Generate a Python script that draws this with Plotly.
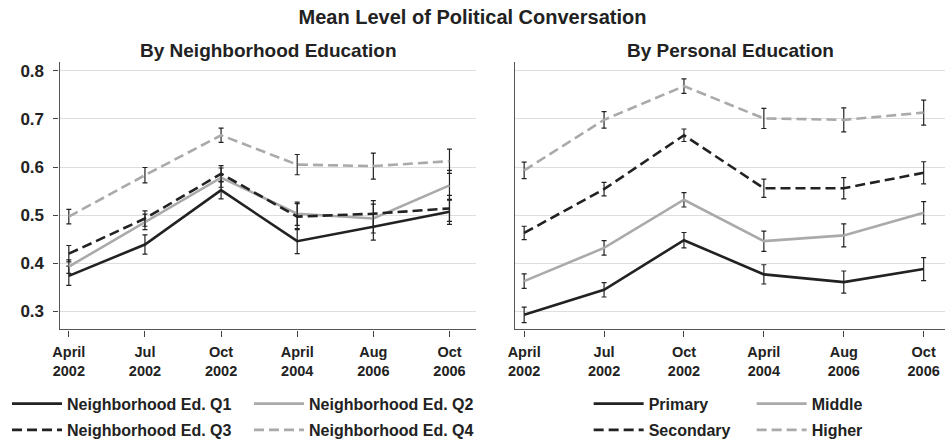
import plotly.graph_objects as go

# ---- data ----
waves = ["April<br>2002", "Jul<br>2002", "Oct<br>2002", "April<br>2004", "Aug<br>2006", "Oct<br>2006"]
wave_pos = [0, 1, 2, 3, 4, 5]

neigh_names = ["Neighborhood Ed. Q1", "Neighborhood Ed. Q2", "Neighborhood Ed. Q3", "Neighborhood Ed. Q4"]
neigh_q1 = [0.374, 0.439, 0.552, 0.446, 0.476, 0.507]
neigh_q2 = [0.393, 0.486, 0.578, 0.503, 0.493, 0.562]
neigh_q3 = [0.420, 0.493, 0.586, 0.497, 0.503, 0.514]
neigh_q4 = [0.497, 0.583, 0.666, 0.605, 0.602, 0.612]
neigh_q1_err = [0.020, 0.020, 0.018, 0.026, 0.028, 0.026]
neigh_q2_err = [0.014, 0.016, 0.020, 0.024, 0.030, 0.031]
neigh_q3_err = [0.017, 0.016, 0.017, 0.027, 0.027, 0.027]
neigh_q4_err = [0.015, 0.016, 0.015, 0.021, 0.027, 0.025]

pers_names = ["Primary", "Middle", "Secondary", "Higher"]
pers_primary = [0.293, 0.345, 0.448, 0.377, 0.361, 0.388]
pers_middle = [0.363, 0.432, 0.532, 0.446, 0.458, 0.505]
pers_secondary = [0.463, 0.554, 0.666, 0.556, 0.556, 0.588]
pers_higher = [0.593, 0.698, 0.768, 0.701, 0.698, 0.713]
pers_primary_err = [0.016, 0.015, 0.016, 0.020, 0.023, 0.024]
pers_middle_err = [0.015, 0.015, 0.015, 0.021, 0.024, 0.023]
pers_secondary_err = [0.014, 0.014, 0.013, 0.019, 0.022, 0.023]
pers_higher_err = [0.017, 0.017, 0.015, 0.021, 0.025, 0.026]

y_ticks = [0.3, 0.4, 0.5, 0.6, 0.7, 0.8]

# ---- styles ----
BLACK = "#222222"
GRAY = "#aaaaaa"
FONT = "Liberation Sans, Arial, Helvetica, sans-serif"
DASH = "10px,5px"
styles = [(BLACK, "solid"), (GRAY, "solid"), (BLACK, DASH), (GRAY, DASH)]

W, H = 945, 447

fig = go.Figure()

def add_series(x_axis, y_axis, name, ys, errs, style, legend):
    color, dash = style
    fig.add_trace(go.Scatter(
        x=wave_pos, y=ys, name=name, mode="lines",
        line=dict(color=color, width=2.6, dash=dash),
        error_y=dict(type="data", array=errs, visible=True, color=BLACK,
                     thickness=1.2, width=2.5),
        xaxis=x_axis, yaxis=y_axis, legend=legend,
    ))

left_series = [neigh_q1, neigh_q2, neigh_q3, neigh_q4]
left_errs = [neigh_q1_err, neigh_q2_err, neigh_q3_err, neigh_q4_err]
right_series = [pers_primary, pers_middle, pers_secondary, pers_higher]
right_errs = [pers_primary_err, pers_middle_err, pers_secondary_err, pers_higher_err]
row_legends_left = ["legend", "legend", "legend2", "legend2"]
row_legends_right = ["legend3", "legend3", "legend4", "legend4"]

for i in range(4):
    add_series("x", "y", neigh_names[i], left_series[i], left_errs[i], styles[i], row_legends_left[i])
for i in range(4):
    add_series("x2", "y2", pers_names[i], right_series[i], right_errs[i], styles[i], row_legends_right[i])

def px_x(p):
    return p / W

def px_y(p):
    return 1 - p / H

ydom = [px_y(337), px_y(63)]
yrange = [0.2626, 0.819]

axis_common = dict(
    showgrid=False, zeroline=False, showline=True, linecolor="#555555", linewidth=1.3,
    ticks="outside", ticklen=6, tickwidth=1.2, tickcolor="#444444",
    tickvals=wave_pos, ticktext=waves, ticklabelstandoff=3,
    tickfont=dict(family=FONT, size=14.5, color=BLACK, weight="bold"),
)
fig.update_layout(
    xaxis=dict(domain=[px_x(53), px_x(473)], range=[-0.121, 5.355], anchor="y", **axis_common),
    xaxis2=dict(domain=[px_x(512), 1.0], range=[-0.112, 5.267], anchor="y2", **axis_common),
    yaxis=dict(domain=ydom, range=yrange, anchor="x", tickvals=y_ticks,
               ticktext=[f"{v:.1f}" for v in y_ticks],
               showgrid=True, gridcolor="#dedede", gridwidth=1.2, zeroline=False,
               showline=True, linecolor="#555555", linewidth=1.3,
               ticks="outside", ticklen=5, tickwidth=1.2, tickcolor="#444444",
               ticklabelstandoff=6,
               tickfont=dict(family=FONT, size=17, color=BLACK, weight="bold")),
    yaxis2=dict(domain=ydom, range=yrange, anchor="x2", tickvals=y_ticks,
                showticklabels=False, showgrid=True, gridcolor="#dedede", gridwidth=1.2,
                zeroline=False, showline=True, linecolor="#555555", linewidth=1.3, ticks=""),
)

leg_common = dict(orientation="h", xanchor="left", yanchor="middle",
                  bgcolor="rgba(0,0,0,0)", borderwidth=0, itemwidth=50,
                  entrywidthmode="pixels",
                  font=dict(family=FONT, size=16, color=BLACK, weight="bold"),
                  itemclick=False, itemdoubleclick=False)
fig.update_layout(
    legend=dict(x=0, y=px_y(413), entrywidth=177, **leg_common),
    legend2=dict(x=0, y=px_y(440), entrywidth=177, **leg_common),
    legend3=dict(x=px_x(586), y=px_y(413), entrywidth=98, **leg_common),
    legend4=dict(x=px_x(586), y=px_y(440), entrywidth=98, **leg_common),
)

fig.update_layout(
    width=W, height=H,
    margin=dict(l=0, r=0, t=0, b=0),
    paper_bgcolor="white", plot_bgcolor="white",
    title=dict(text="<b>Mean Level of Political Conversation</b>", x=0.5, xanchor="center",
               y=px_y(17), yanchor="middle", yref="container",
               font=dict(family=FONT, size=20, color=BLACK)),
    annotations=[
        dict(text="<b>By Neighborhood Education</b>", x=(px_x(53) + px_x(473)) / 2, y=px_y(52),
             xref="paper", yref="paper", xanchor="center", yanchor="middle", showarrow=False,
             font=dict(family=FONT, size=19, color=BLACK)),
        dict(text="<b>By Personal Education</b>", x=(px_x(512) + 1.0) / 2, y=px_y(52),
             xref="paper", yref="paper", xanchor="center", yanchor="middle", showarrow=False,
             font=dict(family=FONT, size=19, color=BLACK)),
    ],
    showlegend=True,
)

fig.write_html("out.html")
